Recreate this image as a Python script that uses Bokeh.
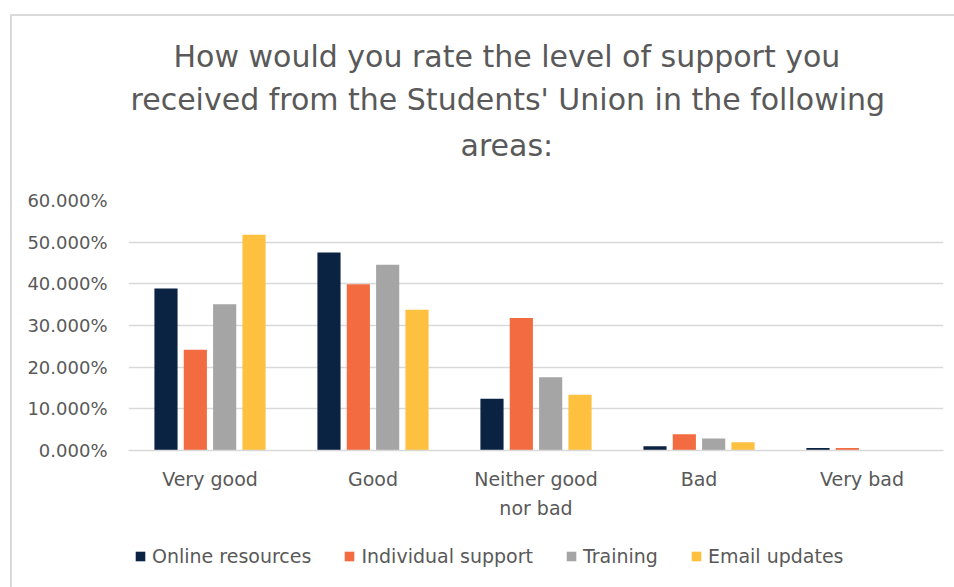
import numpy as np
from bokeh.plotting import figure
from bokeh.layouts import column
from bokeh.models import (Range1d, FixedTicker, NumeralTickFormatter, Legend, LegendItem, Title)
from bokeh.embed import file_html
from bokeh.resources import INLINE

categories = ["Very good", "Good", "Neither good nor bad", "Bad", "Very bad"]
category_labels = ["Very good", "Good", "Neither good\nnor bad", "Bad", "Very bad"]
series_names = ["Online resources", "Individual support", "Training", "Email updates"]
online_resources = [0.389, 0.475, 0.124, 0.010, 0.006]
individual_support = [0.242, 0.399, 0.318, 0.039, 0.006]
training = [0.351, 0.446, 0.176, 0.029, 0.0]
email_updates = [0.518, 0.338, 0.134, 0.020, 0.0]
y_ticks = [0.0, 0.1, 0.2, 0.3, 0.4, 0.5, 0.6]
title_lines = ["How would you rate the level of support you",
               "received from the Students' Union in the following",
               "areas:"]

series_values = [online_resources, individual_support, training, email_updates]
colors = ["#0b2343", "#f26b41", "#a5a5a5", "#fec03f"]
offsets = [-0.27, -0.09, 0.09, 0.27]
bar_width = 0.142

FONT = "DejaVu Sans"
GREY = "#595959"
BORDER = "2px solid #d9d9d9"

# ---------------- main chart ----------------
p = figure(frame_width=813, frame_height=248, output_backend="svg", toolbar_location=None,
           x_range=Range1d(-0.5, len(categories) - 0.5), y_range=Range1d(0, 0.6),
           min_border_left=116, min_border_right=13, min_border_top=184, min_border_bottom=82,
           outline_line_color=None, title=None)
p.margin = (14, 0, 0, 10)
p.styles = {"border-top": BORDER, "border-left": BORDER}

x = np.arange(len(categories))
for vals, c, off in zip(series_values, colors, offsets):
    p.vbar(x=x + off, top=vals, width=bar_width, fill_color=c, line_color=None)

# spacer between title block and plot frame
p.add_layout(Title(text=" ", text_font=FONT, text_font_size="10px", standoff=20), "above")
title_offsets = [332, 2, 45]
title_standoffs = [9, 9, 3]
for line, off, so in zip(reversed(title_lines), title_offsets, title_standoffs):
    t = Title(text=line, align="left", offset=off, text_font=FONT, text_font_size="30px",
              text_font_style="normal", text_color=GREY, standoff=so)
    p.add_layout(t, "above")

p.xaxis.ticker = FixedTicker(ticks=list(x))
p.xaxis.major_label_overrides = {int(i): lab for i, lab in zip(x, category_labels)}
p.xaxis.major_tick_line_color = None
p.xaxis.major_tick_out = 0
p.xaxis.major_tick_in = 0
p.xaxis.minor_tick_line_color = None
p.xaxis.axis_line_color = "#d9d9d9"
p.xaxis.axis_line_width = 1.5
p.xaxis.major_label_standoff = 17
p.xaxis.major_label_text_font = FONT
p.xaxis.major_label_text_font_size = "19px"
p.xaxis.major_label_text_line_height = 1.33
p.xaxis.major_label_text_color = GREY

p.yaxis.ticker = FixedTicker(ticks=y_ticks)
p.yaxis.formatter = NumeralTickFormatter(format="0.000%")
p.yaxis.axis_line_color = None
p.yaxis.major_tick_line_color = None
p.yaxis.major_tick_out = 0
p.yaxis.major_tick_in = 0
p.yaxis.minor_tick_line_color = None
p.yaxis.major_label_standoff = 21
p.yaxis.major_label_text_font = FONT
p.yaxis.major_label_text_font_size = "18px"
p.yaxis.major_label_text_color = GREY

p.xgrid.grid_line_color = None
p.ygrid.grid_line_color = "#d9d9d9"
p.ygrid.grid_line_width = 1.5

# ---------------- legend strip ----------------
# the legend's renderers draw the same series, but their range keeps the bars out of view
p2 = figure(width=942, height=57, output_backend="svg", toolbar_location=None,
            x_range=Range1d(-0.5, len(categories) - 0.5), y_range=Range1d(2, 3),
            x_axis_location=None, y_axis_location=None,
            min_border_left=0, min_border_right=0, min_border_top=0, min_border_bottom=0,
            outline_line_color=None, title=None)
p2.margin = (0, 0, 0, 10)
p2.styles = {"border-left": BORDER}
p2.grid.grid_line_color = None

legend_renderers = [p2.vbar(x=x + off, top=vals, width=bar_width, fill_color=c, line_color=None)
                    for vals, c, off in zip(series_values, colors, offsets)]
legend = Legend(items=[LegendItem(label=n, renderers=[r]) for n, r in zip(series_names, legend_renderers)],
                orientation="horizontal", location=(6, 20),
                glyph_width=12, glyph_height=12, label_standoff=6, spacing=32,
                label_text_font=FONT, label_text_font_size="19px", label_text_color=GREY,
                background_fill_alpha=0, border_line_color=None, margin=0, padding=5)
p2.add_layout(legend)

layout = column(p, p2, spacing=0)
open("out.html", "w").write(file_html(layout, INLINE))
